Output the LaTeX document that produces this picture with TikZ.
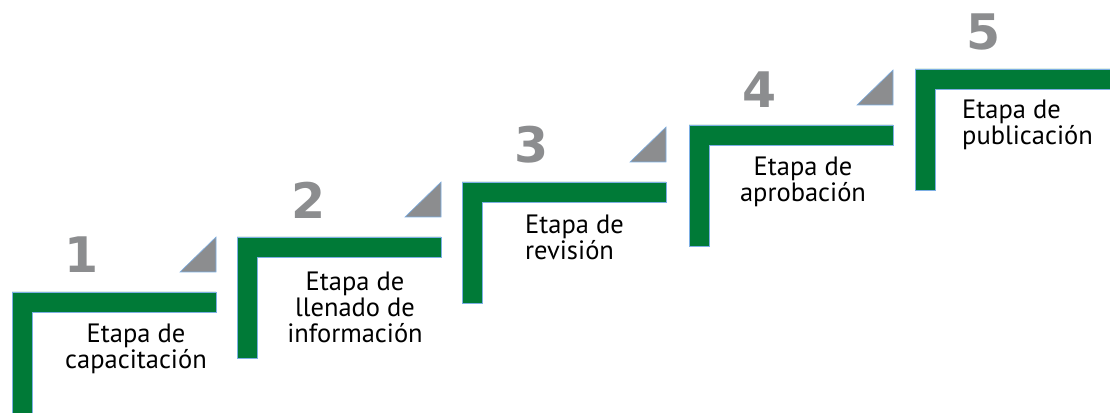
\documentclass[tikz,border=0pt]{standalone}
\usepackage{fontspec}
\setmainfont{PT Sans}
\newfontfamily\numfont{DejaVu Sans}
\usepackage{tikz}
\usetikzlibrary{positioning}
\definecolor{stepgreen}{RGB}{0,122,55}
\definecolor{stepgray}{RGB}{140,141,143}
\definecolor{edgeblue}{RGB}{125,175,228}
\tikzstyle{stair} = [fill=stepgreen, draw=edgeblue, line width=0.6pt]
\tikzstyle{corner} = [fill=stepgray, draw=edgeblue, line width=0.6pt]
\tikzstyle{num} = [draw=none, inner sep=0, text=stepgray, font=\numfont\bfseries\fontsize{49}{49}\selectfont]
\tikzstyle{stage} = [draw=none, inner sep=0, text=black, font=\fontsize{26.5}{26}\selectfont]

\begin{document}
\begin{tikzpicture}[x=1pt, y=1pt]
\useasboundingbox (0,0) rectangle (1110,412);
\clip (0,0) rectangle (1110,412);
% stairs
\draw [stair] (12,120) -- (216,120) -- (216,100) -- (32,100) -- (32,-1) -- (12,-1) -- cycle;
\draw [stair] (237,175) -- (441,175) -- (441,155) -- (257,155) -- (257,54) -- (237,54) -- cycle;
\draw [stair] (462,230) -- (666,230) -- (666,210) -- (482,210) -- (482,109) -- (462,109) -- cycle;
\draw [stair] (689,287) -- (893,287) -- (893,267) -- (709,267) -- (709,166) -- (689,166) -- cycle;
\draw [stair] (915,343) -- (1119,343) -- (1119,323) -- (935,323) -- (935,222) -- (915,222) -- cycle;
\draw [corner] (180,140) -- (216,140) -- (216,175) -- cycle;
\draw [corner] (405,195) -- (441,195) -- (441,230) -- cycle;
\draw [corner] (630,250) -- (666,250) -- (666,285) -- cycle;
\draw [corner] (857,307) -- (893,307) -- (893,342) -- cycle;
\node [num] (n1) at (82,157) {1};
\node [num] (n2) at (309,212) {2};
\node [num] (n3) at (532,267) {3};
\node [num] (n4) at (760,322) {4};
\node [num] (n5) at (984,380) {5};
\node [stage, align=center] (t1) at (136,63.5) {Etapa de\\capacitación};
\node [stage, align=center] (t2) at (355,105) {Etapa de\\llenado de\\información};
\node [stage, align=left, anchor=west] (t3) at (525,175) {Etapa de\\revisión};
\node [stage, align=center] (t4) at (803,230.5) {Etapa de\\aprobación};
\node [stage, align=left, anchor=west] (t5) at (962,287) {Etapa de\\publicación};
\end{tikzpicture}
\end{document}
